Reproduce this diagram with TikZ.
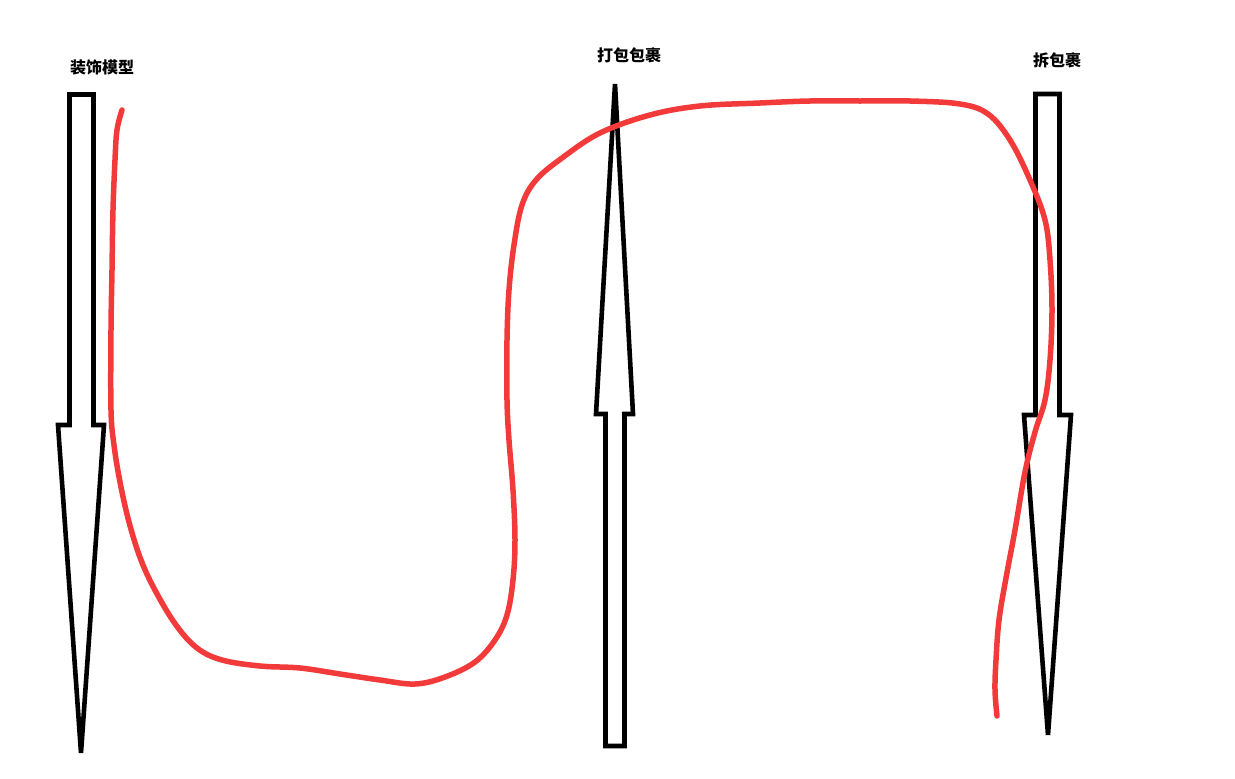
\documentclass[tikz,border=0pt]{standalone}
\usepackage{fontspec}
\newfontfamily\cjk{Noto Sans CJK SC}
\definecolor{pen}{HTML}{F23A3A}
\tikzset{
  bigarrow/.style={draw=black, line width=4.6pt, line join=miter, fill=none},
  lbl/.style={font=\cjk\bfseries\fontsize{16}{17}\selectfont, inner sep=0pt},
  stroke/.style={draw=pen, line width=5.5pt, line cap=round, line join=round}
}
\begin{document}
\begin{tikzpicture}[x=1pt,y=-1pt]
\useasboundingbox (0,0) rectangle (1235,779);
% labels
\node[lbl] (l1) at (102,67) {装饰模型};
\node[lbl] (l2) at (629,55) {打包包裹};
\node[lbl] (l3) at (1057,60) {拆包裹};
% left down arrow
\draw[bigarrow] (69.5,94.5) -- (93.5,94.5) -- (93.5,425) -- (104,425) -- (81,753) -- (58,425) -- (69.5,425) -- cycle;
% middle up arrow
\draw[bigarrow] (615,84) -- (633,414) -- (624.5,414) -- (624.5,746) -- (605.5,746) -- (605.5,414) -- (596,414) -- cycle;
% right down arrow
\draw[bigarrow] (1035.5,94) -- (1059.5,94) -- (1059.5,415) -- (1071,415) -- (1048,735) -- (1024,415) -- (1035.5,415) -- cycle;
% red hand-drawn curve
\draw[stroke] plot[smooth, tension=0.6] coordinates {
(122,110) (117,130) (115,160) (113,210) (112,270) (111,330) (111,410)
(114,445) (120,482) (129,522) (141,560) (156,592) (176,625) (197,648)
(222,660) (260,666) (300,668) (340,674) (380,680) (415,684) (445,677)
(475,662) (495,640) (507,615) (513,580) (515,540) (513,490) (509,440)
(507,400) (507,340) (509,290) (514,245) (522,205) (536,180) (562,158)
(600,133) (650,115) (700,106) (760,103) (810,101) (860,101) (910,101)
(960,104) (988,114) (1010,140) (1030,180) (1045,220) (1050,260) (1052,310)
(1050,360) (1045,400) (1035,432) (1025,472) (1015,530) (1006,578) (999,620)
(996,660) (995,690) (997,716)};
\end{tikzpicture}
\end{document}
